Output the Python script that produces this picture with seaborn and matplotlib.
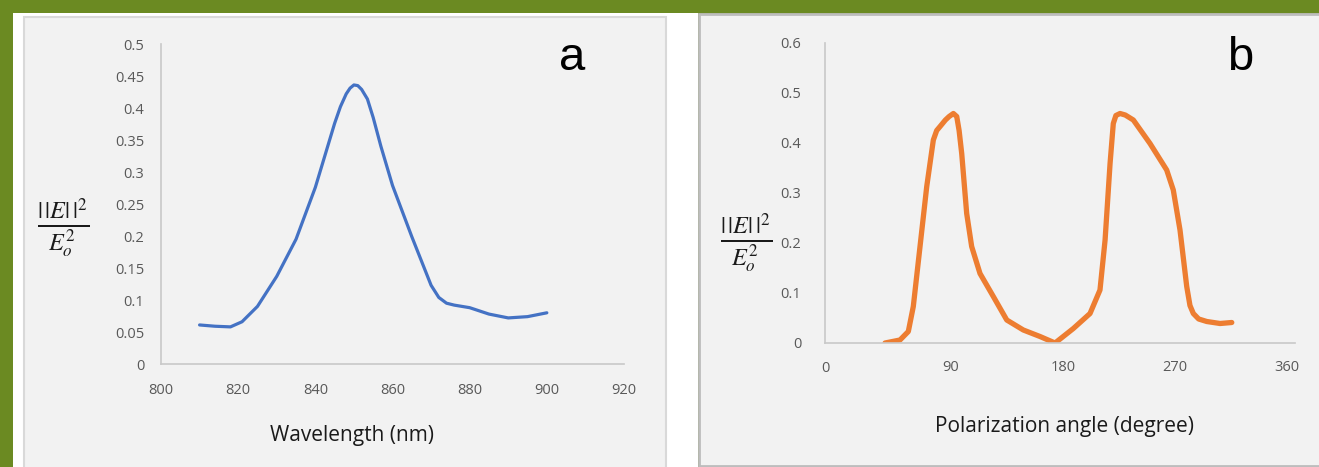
import numpy as np
import pandas as pd
import matplotlib
matplotlib.use("Agg")
import matplotlib.pyplot as plt
from matplotlib.patches import Rectangle
import seaborn as sns

# ---- data ----
wavelength = [810, 814, 818, 821, 825, 830, 835, 840, 843, 845, 846.5, 848, 849,
              850, 851, 852, 853.5, 855, 857, 860, 865, 870, 872, 874, 876, 880,
              885, 890, 895, 900]
field_a = [0.061, 0.059, 0.058, 0.066, 0.090, 0.137, 0.195, 0.276, 0.336, 0.376,
           0.402, 0.422, 0.431, 0.436, 0.435, 0.429, 0.414, 0.385, 0.340, 0.279,
           0.199, 0.123, 0.104, 0.095, 0.092, 0.088, 0.078, 0.072, 0.074, 0.080]

angle = [37, 49, 55.7, 59.7, 65.1, 70.5, 75.8, 78.5, 81.2, 85.5, 88.5, 91.9,
         94.6, 96.5, 98.6, 102.6, 106.6, 113.3, 124.0, 134.8, 148.1, 161.5,
         173.6, 188.3, 201.7, 209.7, 213.8, 217.8, 220.4, 222.5, 225.8, 230.0,
         236.5, 249.9, 263.3, 268.6, 274.0, 279.4, 282.0, 284.7, 289.0, 295.5,
         306.2, 315.6]
field_b = [0.0, 0.006, 0.023, 0.073, 0.193, 0.313, 0.406, 0.425, 0.433, 0.446,
           0.453, 0.459, 0.453, 0.425, 0.379, 0.259, 0.193, 0.139, 0.093, 0.046,
           0.026, 0.013, 0.0, 0.029, 0.059, 0.106, 0.206, 0.359, 0.439, 0.455,
           0.459, 0.456, 0.446, 0.399, 0.346, 0.306, 0.226, 0.113, 0.075, 0.059,
           0.048, 0.043, 0.039, 0.041]

xticks_a = [800, 820, 840, 860, 880, 900, 920]
yticks_a = [0, 0.05, 0.1, 0.15, 0.2, 0.25, 0.3, 0.35, 0.4, 0.45, 0.5]
yticklabels_a = ["0", "0.05", "0.1", "0.15", "0.2", "0.25", "0.3", "0.35", "0.4", "0.45", "0.5"]
xticks_b = [90, 180, 270, 360]
yticks_b = [0, 0.1, 0.2, 0.3, 0.4, 0.5, 0.6]
yticklabels_b = ["0", "0.1", "0.2", "0.3", "0.4", "0.5", "0.6"]

df_a = pd.DataFrame({"wl": wavelength, "E": field_a})
df_b = pd.DataFrame({"ang": angle, "E": field_b})

sns.set_theme(style="white")
plt.rcParams["font.family"] = ["Open Sans", "DejaVu Sans"]
plt.rcParams["mathtext.fontset"] = "stix"

W, H = 1319, 467
fig = plt.figure(figsize=(W / 100, H / 100), dpi=100)
fig.patch.set_facecolor("#6B8A22")

def px_rect(x0, y0, x1, y1, **kw):
    return Rectangle((x0 / W, 1 - y1 / H), (x1 - x0) / W, (y1 - y0) / H,
                     transform=fig.transFigure, figure=fig, zorder=-5, **kw)

fig.patches.append(px_rect(13, 13, 698, 470, facecolor="white", edgecolor="none"))
fig.patches.append(px_rect(24, 17, 666, 470, facecolor="#F2F2F2", edgecolor="#D9D9D9", linewidth=1.5))
fig.patches.append(px_rect(699, 14, 1322, 466, facecolor="#F2F2F2", edgecolor="#BDBDBD", linewidth=2))

TICKC = "#595959"
AXC = "#C8C8C8"
FRAC = r"$\frac{|\,|E|\,|^2}{E_o^2}$"

def ax_px(x0, x1, ybot, ytop):
    return fig.add_axes([x0 / W, 1 - ybot / H, (x1 - x0) / W, (ybot - ytop) / H])

# ---- panel a ----
axa = ax_px(161, 624, 364, 44)
axa.set_facecolor("none")
sns.lineplot(data=df_a, x="wl", y="E", ax=axa, color="#4472C4", linewidth=2.3,
             sort=False)
axa.lines[0].set_solid_joinstyle("round")
axa.set_xlim(800, 920)
axa.set_ylim(0, 0.5)
axa.set_xticks(xticks_a)
axa.set_xticklabels([str(t) for t in xticks_a])
axa.set_yticks(yticks_a)
axa.set_yticklabels(yticklabels_a)
for s in ["top", "right"]:
    axa.spines[s].set_visible(False)
for s in ["left", "bottom"]:
    axa.spines[s].set_color(AXC)
    axa.spines[s].set_linewidth(1.2)
axa.tick_params(axis="both", length=0, labelsize=10.5, colors=TICKC)
axa.tick_params(axis="x", pad=14)
axa.tick_params(axis="y", pad=12)
axa.set_xlabel("Wavelength (nm)", fontsize=15, color="#1a1a1a")
axa.xaxis.set_label_coords(0.413, -0.19)
axa.set_ylabel("")
axa.text(-0.212, 0.425, FRAC, transform=axa.transAxes,
         fontsize=25, ha="center", va="center", color="#1a1a1a")
fig.text(572 / W, 1 - 58 / H, "a", fontsize=34, ha="center", va="center",
         family=["Liberation Sans", "DejaVu Sans"], color="black")

# ---- panel b ----
axb = ax_px(825, 1295, 343, 43)
axb.set_facecolor("none")
sns.lineplot(data=df_b, x="ang", y="E", ax=axb, color="#ED7D31", linewidth=3.8,
             sort=False)
axb.lines[0].set_solid_joinstyle("round")
axb.lines[0].set_solid_capstyle("round")
axb.set_xlim(-11.25, 366.4)
axb.set_ylim(0, 0.6)
axb.set_xticks(xticks_b)
axb.set_xticklabels([str(t) for t in xticks_b])
axb.set_yticks(yticks_b)
axb.set_yticklabels(yticklabels_b)
for s in ["top", "right"]:
    axb.spines[s].set_visible(False)
for s in ["left", "bottom"]:
    axb.spines[s].set_color(AXC)
    axb.spines[s].set_linewidth(1.2)
axb.tick_params(axis="x", length=0, labelsize=10.5, colors=TICKC, pad=12)
axb.tick_params(axis="y", length=5, width=1.2, labelsize=10.5,
                labelcolor=TICKC, color=AXC, pad=12)
axb.text(0.0, -0.085, "0", transform=axb.transAxes, fontsize=10.5, ha="center",
         va="center", color=TICKC)
axb.set_xlabel("Polarization angle (degree)", fontsize=15, color="#1a1a1a")
axb.xaxis.set_label_coords(0.509, -0.243)
axb.set_ylabel("")
axb.text(-0.168, 0.333, FRAC, transform=axb.transAxes,
         fontsize=25, ha="center", va="center", color="#1a1a1a")
fig.text(1240 / W, 1 - 58 / H, "b", fontsize=34, ha="center", va="center",
         family=["Liberation Sans", "DejaVu Sans"], color="black")

fig.savefig("out.png", dpi=100, facecolor=fig.get_facecolor())
